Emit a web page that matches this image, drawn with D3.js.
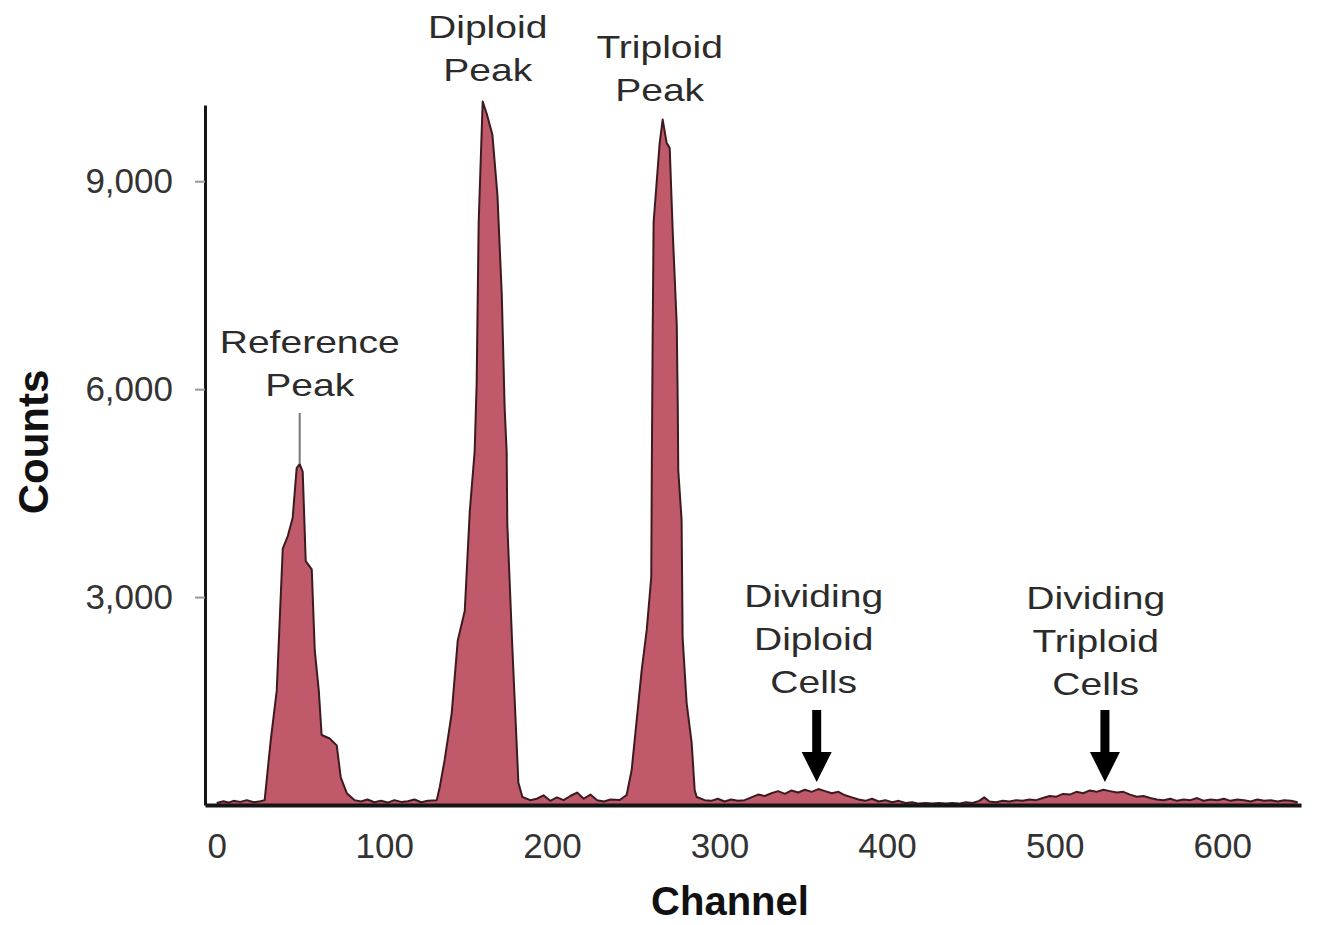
<!DOCTYPE html>
<html>
<head>
<meta charset="utf-8">
<script src="https://cdn.jsdelivr.net/npm/d3@7"></script>
<style>
  body { margin: 0; background: #fff; }
  svg { display: block; font-family: "Liberation Sans", Arial, sans-serif; }
</style>
</head>
<body>
<svg id="chart" width="1333" height="925"></svg>
<script>
// Histogram: channel (x) and counts (y)
const channels = [
  0, 4, 7, 10, 14, 18, 22, 26,
  28.6, 32.2, 35.8, 39.4, 42.4, 45.3, 47.7, 49.5, 51.3, 53.1, 56.7, 58.5, 60.9, 62.6, 67.4, 71.6, 74, 77.6, 82.3,
  86, 90, 94, 98, 102, 106, 110, 114, 118, 122, 126,
  131.3, 133.1, 136, 140.2, 143.8, 148, 151, 153.9, 155.1, 156.3, 158.7, 161.4, 164.5, 167.5, 170.1, 171.8, 173, 173.4, 176.4, 179.4, 180, 182.4, 187.1,
  191, 195, 199, 203, 207, 211, 215, 219, 223, 227, 231, 235,
  240.5, 244.6, 247.6, 251.2, 253.6, 256.6, 259.3, 259.6, 260.1, 260.7, 264.3, 266.1, 268.5, 270.3, 272.1, 274.5, 275.1, 275.4, 277.4, 278, 280.4, 283.4, 285.2, 286.4, 291.2,
  295, 299, 303, 307, 311,
  315, 319, 323, 327, 331, 335, 339, 343, 347, 351, 355, 359, 363, 367, 371, 375, 379, 383,
  387, 391, 395, 399, 403, 407, 411, 415, 419, 423, 427, 431, 435, 439, 443, 447, 451, 455, 458, 461, 465, 469, 473, 477, 481, 485, 489,
  493, 497, 501, 505, 509, 513, 517, 521, 525, 529, 533, 537, 541, 545, 549, 553, 557, 561,
  565, 569, 573, 577, 581, 585, 589, 593, 597, 601, 605, 609, 613, 617, 621, 625, 629, 633, 637, 641, 645
];
const counts = [
  30, 55, 35, 60, 45, 70, 40, 55,
  70, 930, 1650, 3700, 3880, 4140, 4860, 4920, 4810, 3520, 3400, 2230, 1650, 1010, 960, 860, 400, 170, 70,
  50, 80, 40, 60, 35, 70, 45, 55, 80, 40, 60,
  70, 260, 650, 1320, 2370, 2800, 4240, 5100, 6080, 8400, 10150, 9950, 9670, 8800, 7360, 5730, 5100, 4050, 2270, 650, 320, 115, 70,
  90, 140, 60, 110, 70, 130, 180, 90, 150, 70, 50, 80,
  72, 145, 505, 1370, 1950, 2530, 3290, 4760, 6680, 8410, 9550, 9890, 9550, 9480, 8270, 6930, 5770, 4830, 4110, 2420, 1470, 895, 215, 115, 70,
  60, 90, 50, 80, 60,
  70, 110, 150, 130, 170, 200, 160, 210, 180, 220, 190, 230, 200, 170, 190, 140, 110, 80,
  60, 90, 50, 70, 40, 60, 30, 40, 20, 30, 20, 30, 20, 30, 20, 40, 30, 60, 110, 50, 40, 60, 50, 70, 60, 80, 70,
  100, 130, 120, 160, 150, 190, 170, 210, 190, 220, 200, 180, 190, 150, 120, 130, 100, 80,
  70, 90, 60, 80, 70, 100, 60, 80, 70, 90, 60, 80, 70, 50, 80, 60, 70, 50, 70, 60, 40
];

const xTicks = [0, 100, 200, 300, 400, 500, 600];
const yTicks = [3000, 6000, 9000];

// annotation labels, centred on a channel
const labelLines = [
  ["Reference", "Peak"],
  ["Diploid", "Peak"],
  ["Triploid", "Peak"],
  ["Dividing", "Diploid", "Cells"],
  ["Dividing", "Triploid", "Cells"]
];
const labelChannels = [55.5, 161.7, 264.3, 356.2, 524.5];
const arrowChannels = [358, 530];
const referenceLeaderChannel = 49.5;

const svg = d3.select('#chart');

const x = d3.scaleLinear().domain([-7, 647]).range([205, 1301]);
const y = d3.scaleLinear().domain([0, 10100]).range([805, 105]);

const data = channels.map((c, i) => ({ ch: c, n: counts[i] }));

// filled histogram
const area = d3.area()
  .x(d => x(d.ch))
  .y0(y(0))
  .y1(d => y(d.n));

svg.append('path')
  .datum(data)
  .attr('d', area)
  .attr('fill', '#c0596a');

const line = d3.line()
  .x(d => x(d.ch))
  .y(d => y(d.n));

svg.append('path')
  .datum(data)
  .attr('d', line)
  .attr('fill', 'none')
  .attr('stroke', '#3c1b20')
  .attr('stroke-width', 2)
  .attr('stroke-linejoin', 'round');

// axes
const xAxis = d3.axisBottom(x)
  .tickValues(xTicks)
  .tickSize(0)
  .tickSizeOuter(0)
  .tickPadding(28)
  .tickFormat(d3.format('d'));

const xAxisG = svg.append('g')
  .attr('transform', `translate(0,${y(0)})`)
  .call(xAxis);
xAxisG.select('.domain').attr('stroke', '#151515').attr('stroke-width', 4);
xAxisG.selectAll('text')
  .attr('font-family', '"Liberation Sans", Arial, sans-serif')
  .attr('font-size', 35)
  .attr('fill', '#333');

const yAxis = d3.axisLeft(y)
  .tickValues(yTicks)
  .tickSize(10)
  .tickSizeOuter(0)
  .tickPadding(22)
  .tickFormat(d3.format(','));

const yAxisG = svg.append('g')
  .attr('transform', `translate(${x(-7)},0)`)
  .call(yAxis);
yAxisG.select('.domain').attr('stroke', '#151515').attr('stroke-width', 3);
yAxisG.selectAll('.tick line').attr('stroke', '#999').attr('stroke-width', 2);
yAxisG.selectAll('text')
  .attr('font-family', '"Liberation Sans", Arial, sans-serif')
  .attr('font-size', 35)
  .attr('fill', '#333');

// axis titles
svg.append('text')
  .attr('x', 730)
  .attr('y', 915)
  .attr('text-anchor', 'middle')
  .attr('font-size', 40)
  .attr('font-weight', 'bold')
  .attr('fill', '#111')
  .text('Channel');

svg.append('text')
  .attr('transform', 'translate(48,442) rotate(-90)')
  .attr('text-anchor', 'middle')
  .attr('font-size', 42)
  .attr('font-weight', 'bold')
  .attr('fill', '#111')
  .text('Counts');

// peak annotations
const labelTops = [353, 38, 58, 607, 609];
labelLines.forEach((lines, i) => {
  const g = svg.append('g')
    .attr('transform', `translate(${x(labelChannels[i])},${labelTops[i]})`);
  lines.forEach((t, j) => {
    g.append('text')
      .attr('transform', `translate(0,${j * 43}) scale(1.22,1)`)
      .attr('text-anchor', 'middle')
      .attr('font-size', 32)
      .attr('fill', '#2b2b2b')
      .text(t);
  });
});

// leader line from "Reference Peak" to the peak
svg.append('line')
  .attr('x1', x(referenceLeaderChannel))
  .attr('x2', x(referenceLeaderChannel))
  .attr('y1', 413)
  .attr('y2', y(4920))
  .attr('stroke', '#777')
  .attr('stroke-width', 2);

// arrows to the dividing-cell bumps
arrowChannels.forEach(ch => {
  const cx = x(ch);
  svg.append('rect')
    .attr('x', cx - 4.5)
    .attr('y', 710)
    .attr('width', 9)
    .attr('height', 44)
    .attr('fill', '#000');
  svg.append('path')
    .attr('d', `M${cx - 15},752 L${cx + 15},752 L${cx},782 Z`)
    .attr('fill', '#000');
});
</script>
</body>
</html>
